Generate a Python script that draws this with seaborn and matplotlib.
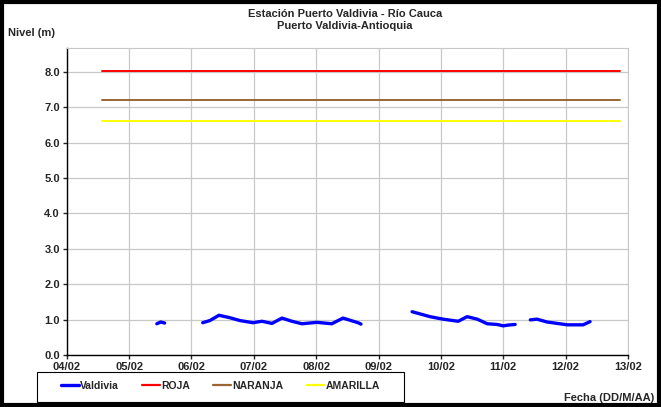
import numpy as np
import pandas as pd
import matplotlib
matplotlib.use("Agg")
import matplotlib.pyplot as plt
import matplotlib.dates as mdates
from matplotlib.lines import Line2D
from matplotlib.patches import Rectangle
import seaborn as sns

# --- data ---
fechas = [
    "2011-02-05 10:40", "2011-02-05 12:10", "2011-02-05 13:40",
    "2011-02-06 04:20", "2011-02-06 07:05", "2011-02-06 10:35", "2011-02-06 14:47",
    "2011-02-06 18:40", "2011-02-06 23:40", "2011-02-07 03:08", "2011-02-07 07:00",
    "2011-02-07 10:50", "2011-02-07 14:40", "2011-02-07 18:30", "2011-02-08 00:15",
    "2011-02-08 06:00", "2011-02-08 10:20", "2011-02-08 16:05", "2011-02-08 17:15",
    "2011-02-09 12:55", "2011-02-09 19:50", "2011-02-10 00:50", "2011-02-10 06:40",
    "2011-02-10 10:05", "2011-02-10 14:00", "2011-02-10 17:50", "2011-02-10 21:40",
    "2011-02-11 00:00", "2011-02-11 01:30", "2011-02-11 04:35",
    "2011-02-11 10:25", "2011-02-11 13:00", "2011-02-11 16:50", "2011-02-12 00:40",
    "2011-02-12 06:45", "2011-02-12 09:25",
]
nivel = [
    0.88, 0.93, 0.90,
    0.91, 0.97, 1.12, 1.05, 0.97, 0.91, 0.95, 0.89, 1.04, 0.95, 0.88, 0.92,
    0.88, 1.04, 0.91, 0.87,
    1.22, 1.08, 1.01, 0.95, 1.08, 1.01, 0.88, 0.86, 0.82, 0.84, 0.86,
    0.99, 1.01, 0.93, 0.85, 0.85, 0.94,
]
tramo = [1] * 3 + [2] * 16 + [3] * 11 + [4] * 6

umbral_fechas = ["2011-02-04 13:30", "2011-02-12 21:00"]
umbrales = {"ROJA": 8.02, "NARANJA": 7.20, "AMARILLA": 6.60}
colores = {"Valdivia": "#0000ff", "ROJA": "#ff0000", "NARANJA": "#996633", "AMARILLA": "#ffff00"}

ticks = pd.date_range("2011-02-04", "2011-02-13", freq="D")

df = pd.DataFrame({"fecha": pd.to_datetime(fechas), "nivel": nivel, "tramo": tramo})

sns.set_style("white")
plt.rcParams["font.family"] = ["Liberation Sans", "DejaVu Sans"]
plt.rcParams["font.weight"] = "bold"

fig = plt.figure(figsize=(6.61, 4.07), dpi=100)
ax = fig.add_axes([0.101, 0.128, 0.849, 0.754])

for nombre, valor in umbrales.items():
    dfu = pd.DataFrame({"fecha": pd.to_datetime(umbral_fechas), "nivel": [valor, valor]})
    sns.lineplot(data=dfu, x="fecha", y="nivel", ax=ax, color=colores[nombre], lw=1.4)

sns.lineplot(data=df, x="fecha", y="nivel", units="tramo", estimator=None,
             ax=ax, color=colores["Valdivia"], lw=2.4)

ax.set_xlim(ticks[0], ticks[-1])
ax.set_ylim(0, 8.67)
ax.set_xticks(ticks)
ax.xaxis.set_major_formatter(mdates.DateFormatter("%d/%m"))
ax.set_yticks(np.arange(0, 9, 1.0))
ax.yaxis.set_major_formatter(matplotlib.ticker.FormatStrFormatter("%.1f"))
ax.grid(True, color="#c8c8c8", lw=0.9)
ax.tick_params(axis="both", labelsize=8, length=3, width=1, direction="out",
               left=True, bottom=True, pad=2)
for lab in ax.get_xticklabels() + ax.get_yticklabels():
    lab.set_fontweight("bold")
ax.set_xlabel("")
ax.set_ylabel("")
for s in ["top", "right"]:
    ax.spines[s].set_color("#c8c8c8")
for s in ["left", "bottom"]:
    ax.spines[s].set_color("black")
    ax.spines[s].set_linewidth(1.0)

fig.text(0.522, 0.978, "Estación Puerto Valdivia - Río Cauca\nPuerto Valdivia-Antioquia",
         ha="center", va="top", fontsize=8, fontweight="bold", linespacing=1.25)
fig.text(0.012, 0.918, "Nivel (m)", ha="left", va="center", fontsize=8, fontweight="bold")
fig.text(0.99, 0.022, "Fecha (DD/M/AA)", ha="right", va="center", fontsize=8, fontweight="bold")

handles = [Line2D([], [], color=colores[k], lw=2.4 if k == "Valdivia" else 1.6)
           for k in ["Valdivia", "ROJA", "NARANJA", "AMARILLA"]]
leg = fig.legend(handles, ["Valdivia", "ROJA", "NARANJA", "AMARILLA"], ncol=4,
                 loc="center", bbox_to_anchor=(52 / 661, 6 / 407, 337 / 661, 30 / 407),
                 mode="expand", frameon=False,
                 handlelength=1.7, handletextpad=0.1, columnspacing=2.0,
                 borderpad=0.9, borderaxespad=0.0, prop={"weight": "bold", "size": 7.5})
# legend frame drawn separately so entries can sit inset like the original
fig.patches.append(Rectangle((37 / 661, 5 / 407), 367 / 661, 30 / 407, transform=fig.transFigure,
                             fill=False, edgecolor="black", lw=0.8))

fig.patches.append(Rectangle((0.003, 0.004), 0.994, 0.992, transform=fig.transFigure,
                             fill=False, edgecolor="black", lw=3))

fig.savefig("out.png", dpi=100)
